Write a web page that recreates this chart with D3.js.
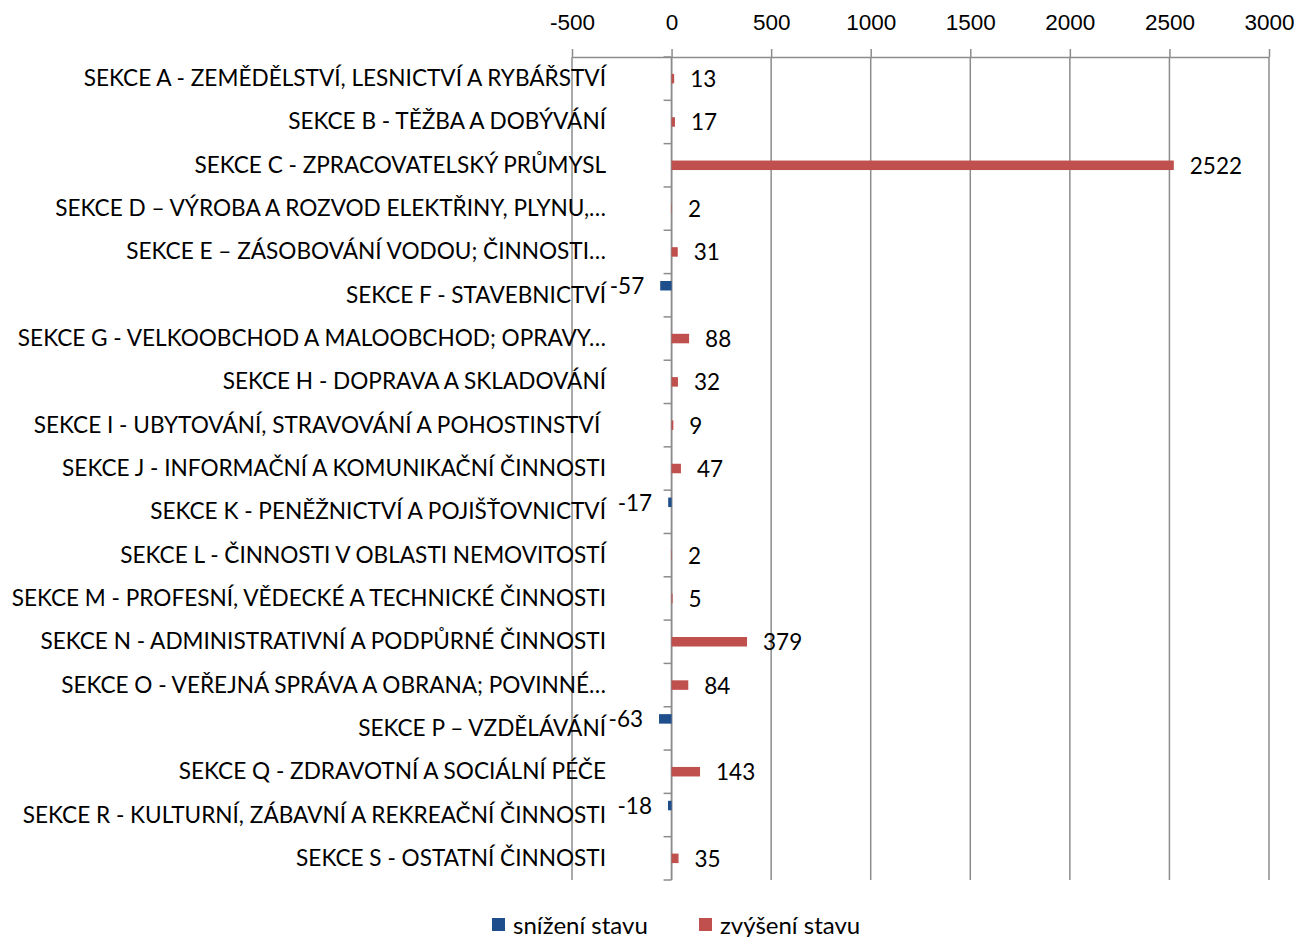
<!DOCTYPE html>
<html lang="cs">
<head>
  <meta charset="UTF-8">
  <title>Změna stavu podle sekcí</title>
  <script src="https://d3js.org/d3.v7.min.js"></script>
  <style>
    body{margin:0;background:#fff}
    svg{display:block;font-family:Lato,"Open Sans",sans-serif}
    .cat{font-size:22.6px;fill:#000;white-space:pre}
    .tick text{font-size:22.5px;fill:#000}
    .lbl{font-size:22.5px;fill:#000}
    .leg{font-size:24px;fill:#000}
  </style>
</head>
<body>
<div id="chart"></div>
<script>
/* --- data --- */
const categories=[
  "SEKCE A - ZEMĚDĚLSTVÍ, LESNICTVÍ A RYBÁŘSTVÍ",
  "SEKCE B - TĚŽBA A DOBÝVÁNÍ",
  "SEKCE C - ZPRACOVATELSKÝ PRŮMYSL",
  "SEKCE D – VÝROBA A ROZVOD ELEKTŘINY, PLYNU,…",
  "SEKCE E – ZÁSOBOVÁNÍ VODOU; ČINNOSTI…",
  "SEKCE F - STAVEBNICTVÍ",
  "SEKCE G - VELKOOBCHOD A MALOOBCHOD; OPRAVY…",
  "SEKCE H - DOPRAVA A SKLADOVÁNÍ",
  "SEKCE I - UBYTOVÁNÍ, STRAVOVÁNÍ A POHOSTINSTVÍ ",
  "SEKCE J - INFORMAČNÍ A KOMUNIKAČNÍ ČINNOSTI",
  "SEKCE K - PENĚŽNICTVÍ A POJIŠŤOVNICTVÍ",
  "SEKCE L - ČINNOSTI V OBLASTI NEMOVITOSTÍ",
  "SEKCE M - PROFESNÍ, VĚDECKÉ A TECHNICKÉ ČINNOSTI",
  "SEKCE N - ADMINISTRATIVNÍ A PODPŮRNÉ ČINNOSTI",
  "SEKCE O - VEŘEJNÁ SPRÁVA A OBRANA; POVINNÉ…",
  "SEKCE P – VZDĚLÁVÁNÍ",
  "SEKCE Q - ZDRAVOTNÍ A SOCIÁLNÍ PÉČE",
  "SEKCE R - KULTURNÍ, ZÁBAVNÍ A REKREAČNÍ ČINNOSTI",
  "SEKCE S - OSTATNÍ ČINNOSTI"
];
const snizeni=[null,null,null,null,null,-57,null,null,null,null,-17,null,null,null,null,-63,null,-18,null];
const zvyseni=[13,17,2522,2,31,null,88,32,9,47,null,2,5,379,84,null,143,null,35];
const seriesNames=["snížení stavu","zvýšení stavu"];
const xTicks=[-500,0,500,1000,1500,2000,2500,3000];

/* --- rozměry --- */
const W=1299,H=937;
const mLeft=572,mRight=1269,mTop=57,mBottom=880;
const colors=["#1f4e8c","#c0504d"];

const svg=d3.select("#chart").append("svg").attr("width",W).attr("height",H);

const x=d3.scaleLinear().domain([-500,3000]).range([mLeft,mRight]);
const y=d3.scaleBand().domain(categories).range([mTop,mBottom]).padding(0);
// 3 sloty na kategorii (třetí zůstává prázdný), modrá nahoře, červená uprostřed
const sub=d3.scaleBand().domain([0,1,2]).range([0,y.bandwidth()]).paddingOuter(0.78).paddingInner(0);

/* --- mřížka --- */
svg.append("g").selectAll("line").data(xTicks).join("line")
  .attr("x1",d=>x(d)).attr("x2",d=>x(d))
  .attr("y1",mTop).attr("y2",mBottom)
  .attr("stroke","#8c8c8c").attr("stroke-width",1.5);

/* --- horní osa --- */
const ax=svg.append("g").attr("transform",`translate(0,${mTop})`)
  .call(d3.axisTop(x).tickValues(xTicks).tickFormat(d=>String(d))
    .tickSize(8).tickPadding(19).tickSizeOuter(0));
ax.select(".domain").attr("stroke","#8c8c8c").attr("stroke-width",1.5);
ax.selectAll(".tick line").attr("stroke","#8c8c8c").attr("stroke-width",1.5);
ax.selectAll(".tick text").style("font-family","inherit");

/* --- svislá osa v nule --- */
const x0=x(0);
svg.append("line").attr("x1",x0).attr("x2",x0).attr("y1",mTop).attr("y2",mBottom)
  .attr("stroke","#8c8c8c").attr("stroke-width",1.5);
const bounds=categories.map(c=>y(c)).concat([mBottom]);
svg.append("g").selectAll("line").data(bounds).join("line")
  .attr("x1",x0-8).attr("x2",x0).attr("y1",d=>d).attr("y2",d=>d)
  .attr("stroke","#8c8c8c").attr("stroke-width",1.5);

/* --- popisky kategorií --- */
svg.append("g").selectAll("text").data(categories).join("text")
  .attr("class","cat")
  .attr("x",606).attr("y",d=>y(d)+y.bandwidth()/2-1)
  .attr("text-anchor","end").attr("dominant-baseline","central")
  .text(d=>d);

/* --- sloupce --- */
[snizeni,zvyseni].forEach((vals,si)=>{
  const rows=categories.map((c,i)=>({c,v:vals[i]})).filter(d=>d.v!=null);
  const g=svg.append("g");
  g.selectAll("rect").data(rows).join("rect")
    .attr("x",d=>Math.min(x(d.v),x0))
    .attr("width",d=>Math.abs(x(d.v)-x0))
    .attr("y",d=>y(d.c)+sub(si))
    .attr("height",sub.bandwidth())
    .attr("fill",colors[si]);
  g.selectAll("text").data(rows).join("text")
    .attr("class","lbl")
    .attr("x",d=>d.v<0?x(d.v)-16:x(d.v)+16)
    .attr("y",d=>y(d.c)+sub(si)+sub.bandwidth()/2)
    .attr("text-anchor",d=>d.v<0?"end":"start")
    .attr("dominant-baseline","central")
    .text(d=>d.v);
});

/* --- legenda --- */
const legX=[492,699];
const leg=svg.append("g");
seriesNames.forEach((n,i)=>{
  leg.append("rect").attr("x",legX[i]).attr("y",918).attr("width",13).attr("height",13).attr("fill",colors[i]);
  leg.append("text").attr("class","leg").attr("x",legX[i]+21).attr("y",924)
    .attr("dominant-baseline","central").text(n);
});
</script>
</body>
</html>
